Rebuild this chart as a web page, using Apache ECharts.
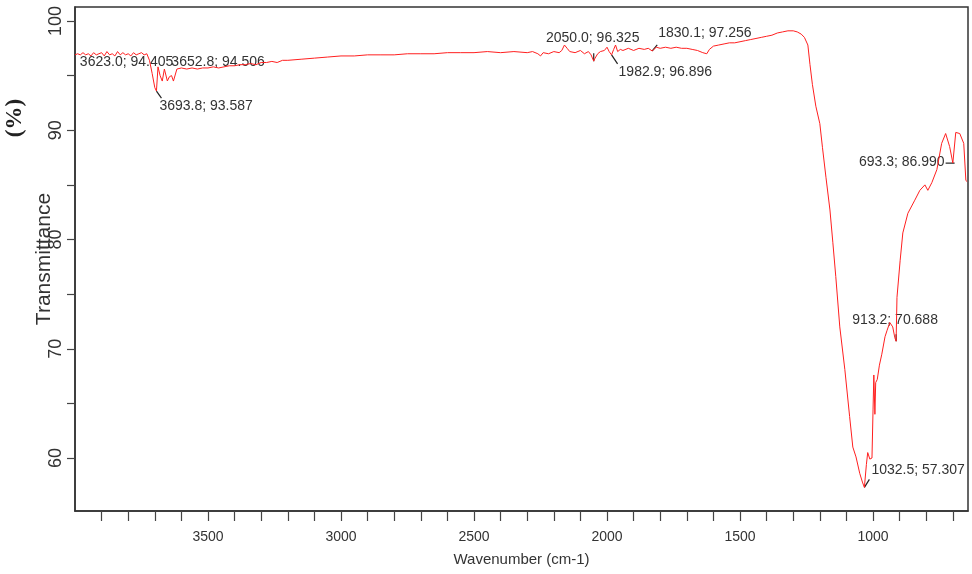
<!DOCTYPE html>
<html>
<head>
<meta charset="utf-8">
<script src="https://cdn.jsdelivr.net/npm/echarts@6/dist/echarts.min.js"></script>
<style>
  html, body { margin: 0; padding: 0; background: #fff; }
  #main { width: 972px; height: 574px; }
</style>
</head>
<body>
<div id="main"></div>
<script>
// 光谱数据
var wavenumber = [4000, 3990, 3980, 3970, 3960, 3950, 3940, 3930, 3920, 3910, 3900, 3890, 3880, 3870, 3860, 3850, 3840, 3830, 3820, 3810,
  3800, 3790, 3780, 3770, 3760, 3750, 3740, 3730, 3720, 3710, 3700, 3693.8, 3688, 3680, 3672, 3664, 3658, 3652.8, 3645, 3637,
  3630, 3623, 3617, 3610, 3600, 3580, 3560, 3540, 3520, 3500, 3480, 3460, 3440, 3420, 3400, 3380, 3360, 3340, 3320, 3300,
  3280, 3260, 3240, 3220, 3200, 3150, 3100, 3050, 3000, 2950, 2900, 2850, 2800, 2750, 2700, 2650, 2600, 2550, 2500, 2450,
  2400, 2350, 2300, 2280, 2260, 2250, 2240, 2220, 2200, 2180, 2170, 2160, 2150, 2140, 2120, 2100, 2085, 2070, 2060, 2050,
  2045, 2035, 2025, 2010, 2000, 1992, 1982.9, 1975, 1968, 1960, 1950, 1940, 1920, 1900, 1880, 1860, 1845, 1830.1, 1815, 1800,
  1780, 1760, 1740, 1720, 1700, 1680, 1660, 1640, 1625, 1615, 1600, 1580, 1560, 1540, 1520, 1500, 1480, 1460, 1440, 1420,
  1400, 1380, 1360, 1340, 1320, 1300, 1285, 1270, 1258, 1245, 1237, 1228, 1215, 1200, 1190, 1177, 1162, 1151, 1140, 1125,
  1106, 1088, 1076, 1064, 1050, 1040, 1032.5, 1025, 1020, 1012, 1008, 1004, 1000, 997, 993, 990, 984, 976, 967, 955,
  947, 937, 926, 918, 913.2, 910, 898, 888, 869, 843, 824, 805, 794, 779, 760, 742, 727, 712, 700, 693.3,
  689, 674, 659, 651, 646];
var transmittance = [96.9, 97.0, 96.9, 97.1, 96.9, 97.0, 96.8, 97.1, 96.9, 97.0, 97.1, 96.8, 97.2, 96.9, 97.0, 96.8, 97.2, 96.9, 97.1, 96.9,
  97.0, 96.8, 97.1, 96.9, 97.0, 97.1, 96.9, 97.0, 96.4, 95.2, 93.9, 93.587, 95.8, 95.0, 94.5, 95.6, 95.7, 94.506, 94.9, 95.0,
  94.5, 94.405, 95.6, 95.6, 95.7, 95.6, 95.7, 95.6, 95.7, 95.7, 95.8, 95.7, 95.8, 95.9, 95.9, 96.0, 96.0, 96.1, 96.0, 96.2,
  96.2, 96.3, 96.2, 96.4, 96.4, 96.5, 96.6, 96.7, 96.8, 96.8, 96.9, 96.9, 96.9, 97.0, 97.0, 97.0, 97.1, 97.1, 97.1, 97.2,
  97.1, 97.2, 97.1, 97.2, 97.0, 96.8, 97.1, 97.0, 97.2, 97.1, 97.3, 97.8, 97.5, 97.2, 97.1, 97.3, 97.0, 97.2, 96.9, 96.325,
  96.6, 97.0, 97.2, 97.3, 97.6, 97.2, 96.896, 97.4, 97.8, 97.2, 97.4, 97.3, 97.5, 97.3, 97.5, 97.4, 97.5, 97.256, 97.6, 97.5,
  97.6, 97.5, 97.6, 97.5, 97.5, 97.4, 97.3, 97.1, 97.0, 97.4, 97.7, 97.8, 97.9, 98.0, 98.0, 98.1, 98.2, 98.3, 98.4, 98.5,
  98.6, 98.7, 98.9, 99.0, 99.1, 99.1, 99.0, 98.8, 98.5, 97.8, 96.0, 94.2, 92.2, 90.6, 88.4, 85.7, 82.7, 79.7, 76.6, 72.0,
  68.1, 63.8, 61.0, 60.1, 58.6, 57.8, 57.307, 59.4, 60.5, 59.9, 59.8, 60.0, 64.4, 67.6, 64.0, 66.9, 67.2, 68.5, 69.5, 71.1,
  71.7, 72.4, 72.0, 71.0, 70.688, 74.7, 78.1, 80.6, 82.4, 83.6, 84.5, 85.0, 84.5, 85.2, 86.4, 88.8, 89.7, 88.5, 87.0, 86.99,
  89.8, 89.7, 88.8, 85.4, 85.3];

// 标注峰
var peakWn = [3623.0, 3652.8, 3693.8, 2050.0, 1982.9, 1830.1, 693.3, 913.2, 1032.5];
var peakT = [94.405, 94.506, 93.587, 96.325, 96.896, 97.256, 86.990, 70.688, 57.307];
// 标签相对峰点的像素偏移、对齐、引线终点（布局）
var peakOffset = [[-2, -20], [4, -19], [3, 15], [-1, -23], [7, 17], [6, -18], [-10, -1], [-1, -21], [7, -17]];
var peakAlign = ['right', 'left', 'left', 'center', 'left', 'left', 'right', 'center', 'left'];
var peakLeader = [[0, 0], [0, 0], [5, 7], [0, -8], [6, 9], [5, -6], [-9, 0], [0, -7], [5, -8]];

// 刻度
var xTicks = [3900, 3800, 3700, 3600, 3500, 3400, 3300, 3200, 3100, 3000, 2900, 2800, 2700, 2600, 2500, 2400, 2300, 2200,
  2100, 2000, 1900, 1800, 1700, 1600, 1500, 1400, 1300, 1200, 1100, 1000, 900, 800, 700];
var xLabels = [3500, 3000, 2500, 2000, 1500, 1000];
var yTicks = [60, 65, 70, 75, 80, 85, 90, 95, 100];
var yLabels = [60, 70, 80, 90, 100];

var lineData = wavenumber.map(function (w, i) { return [w, transmittance[i]]; });
var peakData = peakWn.map(function (w, i) { return [w, peakT[i]]; });

var myChart = echarts.init(document.getElementById('main'));
myChart.setOption({
  animation: false,
  grid: {
    left: 75, right: 4, top: 7, bottom: 63,
    show: true, borderColor: '#333', borderWidth: 1.5
  },
  xAxis: {
    type: 'value',
    inverse: true,
    min: 643, max: 4000,
    name: 'Wavenumber (cm-1)',
    nameLocation: 'middle',
    nameGap: 41,
    nameMoveOverlap: false,
    nameTextStyle: { fontFamily: 'Liberation Sans', fontSize: 15, color: '#333' },
    axisLine: { lineStyle: { color: '#333', width: 1.5 } },
    axisTick: { customValues: xTicks, length: 10, lineStyle: { color: '#444', width: 1.2 } },
    axisLabel: {
      customValues: xLabels, fontFamily: 'Liberation Sans', fontSize: 14, color: '#333', margin: 19,
      formatter: function (v) { return String(v); }
    },
    splitLine: { show: false }
  },
  yAxis: {
    type: 'value',
    min: 55.15, max: 101.28,
    name: 'Transmittance',
    nameLocation: 'middle',
    nameRotate: 90,
    nameGap: 20,
    nameMoveOverlap: false,
    nameTextStyle: { fontFamily: 'Liberation Sans', fontSize: 21, color: '#333' },
    axisLine: { lineStyle: { color: '#333', width: 1.5 } },
    axisTick: { customValues: yTicks, length: 8, lineStyle: { color: '#444', width: 1.2 } },
    axisLabel: {
      customValues: yLabels, rotate: 90, fontFamily: 'Liberation Sans', fontSize: 18, color: '#333', margin: 10,
      formatter: function (v) { return String(v); }
    },
    splitLine: { show: false }
  },
  graphic: [{
    type: 'text',
    x: 15, y: 118,
    rotation: Math.PI / 2,
    style: { text: '(%)', fontFamily: 'Liberation Serif', fontSize: 23, fontWeight: 'bold', fill: '#222', align: 'center', verticalAlign: 'middle' }
  }],
  series: [{
    type: 'line',
    data: lineData,
    showSymbol: false,
    lineStyle: { color: '#ff1f1f', width: 1 }
  }, {
    // 峰值标注：文字 + 引线
    type: 'custom',
    data: peakData,
    clip: false,
    renderItem: function (params, api) {
      var i = params.dataIndex;
      var w = api.value(0), t = api.value(1);
      var pt = api.coord([w, t]);
      var o = peakOffset[i], l = peakLeader[i];
      var children = [{
        type: 'text',
        style: {
          text: w.toFixed(1) + '; ' + t.toFixed(3),
          x: pt[0] + o[0], y: pt[1] + o[1],
          align: peakAlign[i], verticalAlign: 'middle',
          fontFamily: 'Liberation Sans', fontSize: 14, fill: '#333'
        }
      }];
      if (l[0] || l[1]) {
        children.push({
          type: 'line',
          shape: { x1: pt[0], y1: pt[1], x2: pt[0] + l[0], y2: pt[1] + l[1] },
          style: { stroke: '#222', lineWidth: 1.2 }
        });
      }
      return { type: 'group', children: children };
    }
  }]
});
</script>
</body>
</html>
